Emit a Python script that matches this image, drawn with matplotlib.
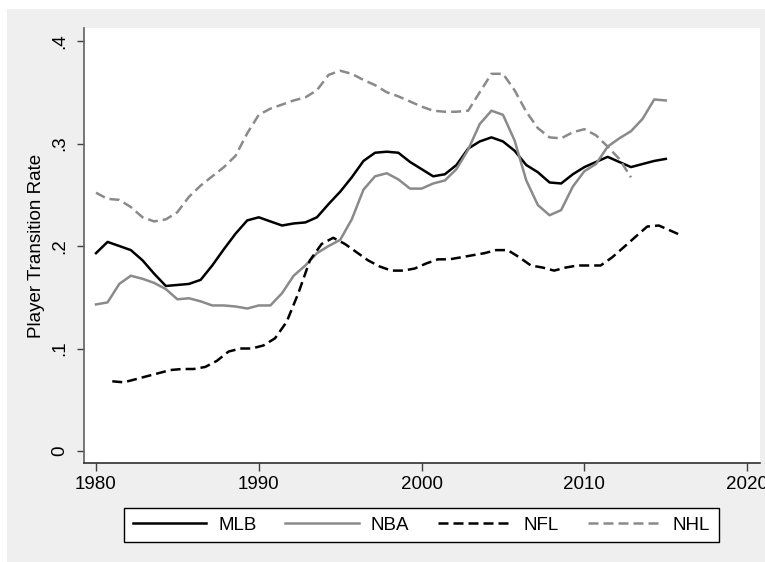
import matplotlib
matplotlib.use("Agg")
import matplotlib.pyplot as plt
from matplotlib.patches import Rectangle

plt.rcParams['font.family'] = ['Liberation Sans', 'DejaVu Sans']

# season points
years = [1980.00, 1980.71, 1981.43, 1982.14, 1982.86, 1983.57, 1984.29, 1985.00, 1985.71, 1986.43,
         1987.14, 1987.86, 1988.57, 1989.29, 1990.00, 1990.71, 1991.43, 1992.14, 1992.86, 1993.57,
         1994.29, 1995.00, 1995.71, 1996.43, 1997.14, 1997.86, 1998.57, 1999.29, 2000.00, 2000.71,
         2001.43, 2002.14, 2002.86, 2003.57, 2004.29, 2005.00, 2005.71, 2006.43, 2007.14, 2007.86,
         2008.57, 2009.29, 2010.00, 2010.71, 2011.43, 2012.14, 2012.86, 2013.57, 2014.29, 2015.00]
nfl_years = [1981.00, 1981.71, 1982.43, 1983.14, 1983.86, 1984.57, 1985.29, 1986.00, 1986.71, 1987.43,
             1988.14, 1988.86, 1989.57, 1990.29, 1991.00, 1991.71, 1992.43, 1993.14, 1993.86, 1994.57,
             1995.29, 1996.00, 1996.71, 1997.43, 1998.14, 1998.86, 1999.57, 2000.29, 2001.00, 2001.71,
             2002.43, 2003.14, 2003.86, 2004.57, 2005.29, 2006.00, 2006.71, 2007.43, 2008.14, 2008.86,
             2009.57, 2010.29, 2011.00, 2011.71, 2012.43, 2013.14, 2013.86, 2014.57, 2015.29, 2016.00]

mlb = [0.193, 0.204, 0.200, 0.196, 0.186, 0.173, 0.161, 0.162, 0.163, 0.167,
       0.181, 0.197, 0.212, 0.225, 0.228, 0.224, 0.220, 0.222, 0.223, 0.228,
       0.241, 0.253, 0.267, 0.283, 0.291, 0.292, 0.291, 0.282, 0.275, 0.268,
       0.270, 0.279, 0.295, 0.302, 0.306, 0.302, 0.293, 0.279, 0.272, 0.262,
       0.261, 0.270, 0.277, 0.282, 0.287, 0.282, 0.277, 0.280, 0.283, 0.285]
nba = [0.143, 0.145, 0.163, 0.171, 0.168, 0.164, 0.158, 0.148, 0.149, 0.146,
       0.142, 0.142, 0.141, 0.139, 0.142, 0.142, 0.154, 0.171, 0.181, 0.193,
       0.200, 0.206, 0.226, 0.255, 0.268, 0.271, 0.265, 0.256, 0.256, 0.261,
       0.264, 0.275, 0.294, 0.319, 0.332, 0.328, 0.303, 0.264, 0.240, 0.230,
       0.235, 0.258, 0.273, 0.280, 0.297, 0.305, 0.312, 0.324, 0.343, 0.342]
nfl = [0.068, 0.067, 0.070, 0.073, 0.076, 0.079, 0.080, 0.080, 0.082, 0.088,
       0.097, 0.100, 0.100, 0.103, 0.110, 0.126, 0.154, 0.186, 0.202, 0.208,
       0.202, 0.194, 0.186, 0.180, 0.176, 0.176, 0.178, 0.183, 0.187, 0.187,
       0.189, 0.191, 0.193, 0.196, 0.196, 0.189, 0.181, 0.179, 0.176, 0.179,
       0.181, 0.181, 0.181, 0.189, 0.199, 0.209, 0.219, 0.220, 0.215, 0.210]
nhl = [0.252, 0.246, 0.245, 0.238, 0.228, 0.224, 0.226, 0.233, 0.248, 0.259,
       0.268, 0.277, 0.288, 0.310, 0.328, 0.334, 0.338, 0.342, 0.345, 0.352,
       0.367, 0.371, 0.368, 0.362, 0.357, 0.350, 0.346, 0.341, 0.336, 0.332,
       0.331, 0.331, 0.332, 0.350, 0.368, 0.368, 0.352, 0.331, 0.315, 0.306,
       0.305, 0.311, 0.314, 0.308, 0.297, 0.285, 0.267]

xticks = [1980, 1990, 2000, 2010, 2020]
yticks = [0, 0.1, 0.2, 0.3, 0.4]
ytick_labels = ["0", ".1", ".2", ".3", ".4"]

gray = '#8a8a8a'
fs = 13.5

fig = plt.figure(figsize=(7.65, 5.62), dpi=100)
fig.patch.set_facecolor('white')
fig.patches.append(Rectangle((7 / 765, 0), 1, 553 / 562, transform=fig.transFigure,
                             facecolor='#efefef', edgecolor='none', zorder=-5))

ax = fig.add_axes([84 / 765, 1 - 463.3 / 562, 676 / 765, 435.3 / 562])
ax.set_facecolor('white')

ax.plot(years, mlb, color='black', lw=1.8, label='MLB')
ax.plot(years, nba, color=gray, lw=1.8, label='NBA')
ax.plot(nfl_years, nfl, color='black', lw=1.8, dashes=(4, 2), label='NFL')
ax.plot(years[:len(nhl)], nhl, color=gray, lw=1.8, dashes=(4, 2), label='NHL')

ax.set_xlim(1979.263, 2020.786)
ax.set_ylim(-0.012, 0.4127)
ax.set_xticks(xticks)
ax.set_xticklabels([str(t) for t in xticks], fontsize=fs)
ax.set_yticks(yticks)
ax.set_yticklabels(ytick_labels, fontsize=fs, rotation=90, va='center')
ax.tick_params(axis='x', length=6, width=1, color='#404040', pad=3)
ax.tick_params(axis='y', length=5, width=1, color='#404040', pad=6)

for s in ['top', 'right']:
    ax.spines[s].set_visible(False)
ax.spines['left'].set_color('#606060')
ax.spines['bottom'].set_color('#303030')
ax.spines['left'].set_linewidth(1.2)
ax.spines['bottom'].set_linewidth(1.2)

ax.set_ylabel('Player Transition Rate', fontsize=fs)
ax.yaxis.set_label_coords(-0.058, 0.5)

leg = fig.legend(loc='center', bbox_to_anchor=(421.5 / 765, 1 - 525 / 562), ncol=4,
                 fontsize=fs, frameon=True, fancybox=False, edgecolor='black',
                 handlelength=3.9, handletextpad=0.64, columnspacing=1.55,
                 borderpad=0.45)
leg.get_frame().set_linewidth(1.0)
leg.get_frame().set_facecolor('white')
leg.get_frame().set_alpha(1)

plt.savefig('out.png', dpi=100, facecolor=fig.get_facecolor())
